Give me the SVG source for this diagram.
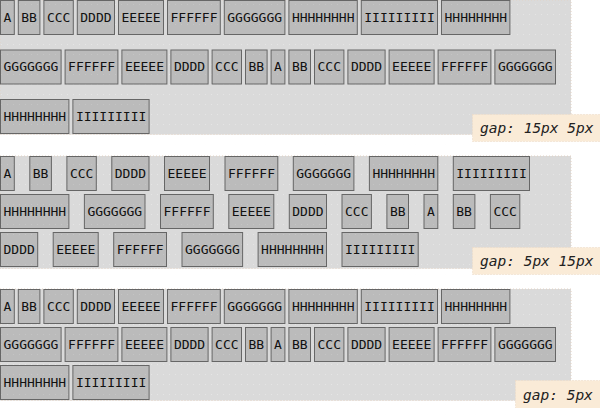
<svg xmlns="http://www.w3.org/2000/svg" width="600" height="408" viewBox="0 0 600 408">
<defs>
<pattern id="cdots" width="6" height="10" patternUnits="userSpaceOnUse"><rect width="6" height="10" fill="#dadada"/><rect x="1" y="4" width="1" height="1" fill="#e5e5e5"/></pattern>
<pattern id="bdots" width="6" height="10" patternUnits="userSpaceOnUse"><rect width="6" height="10" fill="#bbbbbb"/><rect x="1" y="4" width="1" height="1" fill="#c4c4c4"/></pattern>
</defs>
<style>
.cont{fill:url(#cdots);stroke:#e2d2c4;stroke-width:1;stroke-dasharray:1 2}
.b rect{fill:url(#bdots);stroke:#666666;stroke-width:1}
.b text{font-family:"DejaVu Sans Mono","Liberation Mono",monospace;font-size:13px;fill:#111}
.lab rect{fill:#faebd7;stroke:#ecd8c4;stroke-width:1;stroke-dasharray:1 2}
.lab text{font-family:"DejaVu Sans Mono","Liberation Mono",monospace;font-style:italic;font-size:14.5px;fill:#222}
</style>
<rect width="600" height="408" fill="#ffffff"/>

<g id="container1">
<rect class="cont" x="0" y="0" width="571" height="134.5"/>
<g class="b" id="c1r1">
<g id="c1-a1"><rect x="0.5" y="0.5" width="13.8" height="34"/><text x="3.5" y="21.5">A</text></g>
<g id="c1-b1"><rect x="18.3" y="0.5" width="21.6" height="34"/><text x="21.3" y="21.5">BB</text></g>
<g id="c1-c1"><rect x="43.9" y="0.5" width="29.4" height="34"/><text x="46.9" y="21.5">CCC</text></g>
<g id="c1-d1"><rect x="77.3" y="0.5" width="37.2" height="34"/><text x="80.3" y="21.5">DDDD</text></g>
<g id="c1-e1"><rect x="118.5" y="0.5" width="45" height="34"/><text x="121.5" y="21.5">EEEEE</text></g>
<g id="c1-f1"><rect x="167.5" y="0.5" width="52.8" height="34"/><text x="170.5" y="21.5">FFFFFF</text></g>
<g id="c1-g1"><rect x="224.3" y="0.5" width="60.6" height="34"/><text x="227.3" y="21.5">GGGGGGG</text></g>
<g id="c1-h1"><rect x="288.9" y="0.5" width="68.4" height="34"/><text x="291.9" y="21.5">HHHHHHHH</text></g>
<g id="c1-i1"><rect x="361.3" y="0.5" width="76.2" height="34"/><text x="364.3" y="21.5">IIIIIIIII</text></g>
<g id="c1-h2"><rect x="441.5" y="0.5" width="68.4" height="34"/><text x="444.5" y="21.5">HHHHHHHH</text></g>
</g>
<g class="b" id="c1r2">
<g id="c1-g2"><rect x="0.5" y="50" width="60.6" height="34"/><text x="3.5" y="71">GGGGGGG</text></g>
<g id="c1-f2"><rect x="65.1" y="50" width="52.8" height="34"/><text x="68.1" y="71">FFFFFF</text></g>
<g id="c1-e2"><rect x="121.9" y="50" width="45" height="34"/><text x="124.9" y="71">EEEEE</text></g>
<g id="c1-d2"><rect x="170.9" y="50" width="37.2" height="34"/><text x="173.9" y="71">DDDD</text></g>
<g id="c1-c2"><rect x="212.1" y="50" width="29.4" height="34"/><text x="215.1" y="71">CCC</text></g>
<g id="c1-b2"><rect x="245.5" y="50" width="21.6" height="34"/><text x="248.5" y="71">BB</text></g>
<g id="c1-a2"><rect x="271.1" y="50" width="13.8" height="34"/><text x="274.1" y="71">A</text></g>
<g id="c1-b3"><rect x="288.9" y="50" width="21.6" height="34"/><text x="291.9" y="71">BB</text></g>
<g id="c1-c3"><rect x="314.5" y="50" width="29.4" height="34"/><text x="317.5" y="71">CCC</text></g>
<g id="c1-d3"><rect x="347.9" y="50" width="37.2" height="34"/><text x="350.9" y="71">DDDD</text></g>
<g id="c1-e3"><rect x="389.1" y="50" width="45" height="34"/><text x="392.1" y="71">EEEEE</text></g>
<g id="c1-f3"><rect x="438.1" y="50" width="52.8" height="34"/><text x="441.1" y="71">FFFFFF</text></g>
<g id="c1-g3"><rect x="494.9" y="50" width="60.6" height="34"/><text x="497.9" y="71">GGGGGGG</text></g>
</g>
<g class="b" id="c1r3">
<g id="c1-h3"><rect x="0.5" y="99.5" width="68.4" height="34"/><text x="3.5" y="120.5">HHHHHHHH</text></g>
<g id="c1-i2"><rect x="72.9" y="99.5" width="76.2" height="34"/><text x="75.9" y="120.5">IIIIIIIII</text></g>
</g>
<g class="lab" id="label1"><rect x="472.5" y="114.5" width="128" height="27"/><text x="480" y="133">gap: 15px 5px</text></g>
</g>

<g id="container2">
<rect class="cont" x="0" y="156" width="571" height="112.5"/>
<g class="b" id="c2r1">
<g id="c2-a1"><rect x="0.5" y="156.5" width="13.8" height="34"/><text x="3.5" y="177.5">A</text></g>
<g id="c2-b1"><rect x="29.8" y="156.5" width="21.6" height="34"/><text x="32.8" y="177.5">BB</text></g>
<g id="c2-c1"><rect x="66.9" y="156.5" width="29.4" height="34"/><text x="69.9" y="177.5">CCC</text></g>
<g id="c2-d1"><rect x="111.8" y="156.5" width="37.2" height="34"/><text x="114.8" y="177.5">DDDD</text></g>
<g id="c2-e1"><rect x="164.5" y="156.5" width="45" height="34"/><text x="167.5" y="177.5">EEEEE</text></g>
<g id="c2-f1"><rect x="225" y="156.5" width="52.8" height="34"/><text x="228" y="177.5">FFFFFF</text></g>
<g id="c2-g1"><rect x="293.3" y="156.5" width="60.6" height="34"/><text x="296.3" y="177.5">GGGGGGG</text></g>
<g id="c2-h1"><rect x="369.4" y="156.5" width="68.4" height="34"/><text x="372.4" y="177.5">HHHHHHHH</text></g>
<g id="c2-i1"><rect x="453.3" y="156.5" width="76.2" height="34"/><text x="456.3" y="177.5">IIIIIIIII</text></g>
</g>
<g class="b" id="c2r2">
<g id="c2-h2"><rect x="0.5" y="194.5" width="68.4" height="34"/><text x="3.5" y="215.5">HHHHHHHH</text></g>
<g id="c2-g2"><rect x="84.4" y="194.5" width="60.6" height="34"/><text x="87.4" y="215.5">GGGGGGG</text></g>
<g id="c2-f2"><rect x="160.5" y="194.5" width="52.8" height="34"/><text x="163.5" y="215.5">FFFFFF</text></g>
<g id="c2-e2"><rect x="228.8" y="194.5" width="45" height="34"/><text x="231.8" y="215.5">EEEEE</text></g>
<g id="c2-d2"><rect x="289.3" y="194.5" width="37.2" height="34"/><text x="292.3" y="215.5">DDDD</text></g>
<g id="c2-c2"><rect x="342" y="194.5" width="29.4" height="34"/><text x="345" y="215.5">CCC</text></g>
<g id="c2-b2"><rect x="386.9" y="194.5" width="21.6" height="34"/><text x="389.9" y="215.5">BB</text></g>
<g id="c2-a2"><rect x="424" y="194.5" width="13.8" height="34"/><text x="427" y="215.5">A</text></g>
<g id="c2-b3"><rect x="453.3" y="194.5" width="21.6" height="34"/><text x="456.3" y="215.5">BB</text></g>
<g id="c2-c3"><rect x="490.4" y="194.5" width="29.4" height="34"/><text x="493.4" y="215.5">CCC</text></g>
</g>
<g class="b" id="c2r3">
<g id="c2-d3"><rect x="0.5" y="232.5" width="37.2" height="34"/><text x="3.5" y="253.5">DDDD</text></g>
<g id="c2-e3"><rect x="53.2" y="232.5" width="45" height="34"/><text x="56.2" y="253.5">EEEEE</text></g>
<g id="c2-f3"><rect x="113.7" y="232.5" width="52.8" height="34"/><text x="116.7" y="253.5">FFFFFF</text></g>
<g id="c2-g3"><rect x="182" y="232.5" width="60.6" height="34"/><text x="185" y="253.5">GGGGGGG</text></g>
<g id="c2-h3"><rect x="258.1" y="232.5" width="68.4" height="34"/><text x="261.1" y="253.5">HHHHHHHH</text></g>
<g id="c2-i2"><rect x="342" y="232.5" width="76.2" height="34"/><text x="345" y="253.5">IIIIIIIII</text></g>
</g>
<g class="lab" id="label2"><rect x="472.5" y="247.5" width="128" height="27"/><text x="480" y="266">gap: 5px 15px</text></g>
</g>

<g id="container3">
<rect class="cont" x="0" y="289" width="571" height="111.5"/>
<g class="b" id="c3r1">
<g id="c3-a1"><rect x="0.5" y="289.5" width="13.8" height="34"/><text x="3.5" y="310.5">A</text></g>
<g id="c3-b1"><rect x="18.3" y="289.5" width="21.6" height="34"/><text x="21.3" y="310.5">BB</text></g>
<g id="c3-c1"><rect x="43.9" y="289.5" width="29.4" height="34"/><text x="46.9" y="310.5">CCC</text></g>
<g id="c3-d1"><rect x="77.3" y="289.5" width="37.2" height="34"/><text x="80.3" y="310.5">DDDD</text></g>
<g id="c3-e1"><rect x="118.5" y="289.5" width="45" height="34"/><text x="121.5" y="310.5">EEEEE</text></g>
<g id="c3-f1"><rect x="167.5" y="289.5" width="52.8" height="34"/><text x="170.5" y="310.5">FFFFFF</text></g>
<g id="c3-g1"><rect x="224.3" y="289.5" width="60.6" height="34"/><text x="227.3" y="310.5">GGGGGGG</text></g>
<g id="c3-h1"><rect x="288.9" y="289.5" width="68.4" height="34"/><text x="291.9" y="310.5">HHHHHHHH</text></g>
<g id="c3-i1"><rect x="361.3" y="289.5" width="76.2" height="34"/><text x="364.3" y="310.5">IIIIIIIII</text></g>
<g id="c3-h2"><rect x="441.5" y="289.5" width="68.4" height="34"/><text x="444.5" y="310.5">HHHHHHHH</text></g>
</g>
<g class="b" id="c3r2">
<g id="c3-g2"><rect x="0.5" y="327.5" width="60.6" height="34"/><text x="3.5" y="348.5">GGGGGGG</text></g>
<g id="c3-f2"><rect x="65.1" y="327.5" width="52.8" height="34"/><text x="68.1" y="348.5">FFFFFF</text></g>
<g id="c3-e2"><rect x="121.9" y="327.5" width="45" height="34"/><text x="124.9" y="348.5">EEEEE</text></g>
<g id="c3-d2"><rect x="170.9" y="327.5" width="37.2" height="34"/><text x="173.9" y="348.5">DDDD</text></g>
<g id="c3-c2"><rect x="212.1" y="327.5" width="29.4" height="34"/><text x="215.1" y="348.5">CCC</text></g>
<g id="c3-b2"><rect x="245.5" y="327.5" width="21.6" height="34"/><text x="248.5" y="348.5">BB</text></g>
<g id="c3-a2"><rect x="271.1" y="327.5" width="13.8" height="34"/><text x="274.1" y="348.5">A</text></g>
<g id="c3-b3"><rect x="288.9" y="327.5" width="21.6" height="34"/><text x="291.9" y="348.5">BB</text></g>
<g id="c3-c3"><rect x="314.5" y="327.5" width="29.4" height="34"/><text x="317.5" y="348.5">CCC</text></g>
<g id="c3-d3"><rect x="347.9" y="327.5" width="37.2" height="34"/><text x="350.9" y="348.5">DDDD</text></g>
<g id="c3-e3"><rect x="389.1" y="327.5" width="45" height="34"/><text x="392.1" y="348.5">EEEEE</text></g>
<g id="c3-f3"><rect x="438.1" y="327.5" width="52.8" height="34"/><text x="441.1" y="348.5">FFFFFF</text></g>
<g id="c3-g3"><rect x="494.9" y="327.5" width="60.6" height="34"/><text x="497.9" y="348.5">GGGGGGG</text></g>
</g>
<g class="b" id="c3r3">
<g id="c3-h3"><rect x="0.5" y="365.5" width="68.4" height="34"/><text x="3.5" y="386.5">HHHHHHHH</text></g>
<g id="c3-i2"><rect x="72.9" y="365.5" width="76.2" height="34"/><text x="75.9" y="386.5">IIIIIIIII</text></g>
</g>
<g class="lab" id="label3"><rect x="515.5" y="380.5" width="85" height="28"/><text x="523" y="400">gap: 5px</text></g>
</g>

<g id="connectors"/>
</svg>
